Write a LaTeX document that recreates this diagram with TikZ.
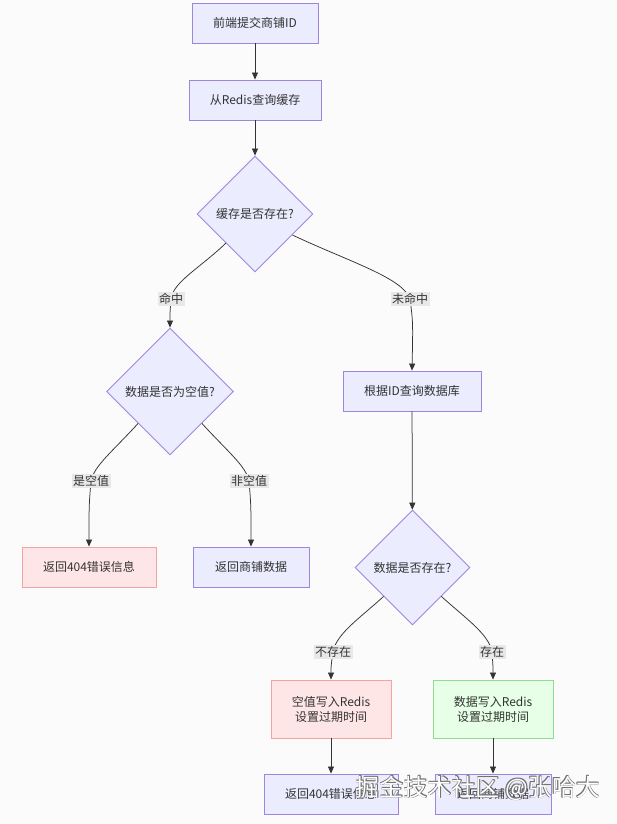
\documentclass[tikz,border=0pt]{standalone}
\usepackage{fontspec}
\setmainfont{Noto Sans CJK SC}
\usetikzlibrary{shapes.geometric,arrows.meta,calc}
\definecolor{bg}{HTML}{FBFBFB}
\definecolor{nfill}{HTML}{ECECFF}
\definecolor{nline}{HTML}{9E86DE}
\definecolor{rfill}{HTML}{FFE6E6}
\definecolor{rline}{HTML}{F2A3A3}
\definecolor{gfill}{HTML}{E6FFE6}
\definecolor{gline}{HTML}{90DD90}
\definecolor{txt}{HTML}{333333}
\definecolor{lbl}{HTML}{E8E8E8}
\definecolor{wmshadow}{HTML}{707070}
\begin{document}
\begin{tikzpicture}[x=1pt,y=-1pt, font=\fontsize{12}{15}\selectfont, text=txt,
  proc/.style={rectangle, draw=nline, fill=nfill, line width=0.9pt, minimum height=40pt, inner sep=0pt},
  dec/.style={diamond, aspect=1, draw=nline, fill=nfill, line width=0.9pt, inner sep=0pt},
  bad/.style={proc, draw=rline, fill=rfill},
  good/.style={proc, draw=gline, fill=gfill},
  conn/.style={draw=txt, line width=0.75pt, -{Triangle[length=7pt,width=6pt]}},
  elabel/.style={fill=lbl, inner sep=1.5pt, font=\fontsize{12}{14}\selectfont},
  wm/.style={font=\fontsize{24}{28}\selectfont, inner sep=0pt}]
\fill[bg] (0,0) rectangle (617,824);
\useasboundingbox (0,0) rectangle (617,824);

\node[proc, minimum width=126pt] (A) at (255,23) {前端提交商铺ID};
\node[proc, minimum width=132pt] (B) at (255,100) {从Redis查询缓存};
\node[dec, minimum size=116pt] (C) at (255,214) {缓存是否存在?};
\node[dec, minimum size=127pt] (D) at (170,391.5) {数据是否为空值?};
\node[proc, minimum width=138pt] (E) at (412,391) {根据ID查询数据库};
\node[bad, minimum width=134pt] (F) at (89,567) {返回404错误信息};
\node[proc, minimum width=116pt] (G) at (251,567) {返回商铺数据};
\node[dec, minimum size=115pt] (H) at (412.5,567.5) {数据是否存在?};
\node[bad, minimum width=120pt, minimum height=58pt, align=center] (I) at (331,709) {空值写入Redis\\设置过期时间};
\node[good, minimum width=120pt, minimum height=58pt, align=center] (J) at (493,709) {数据写入Redis\\设置过期时间};
\node[proc, minimum width=134pt] (K) at (331,794) {返回404错误信息};
\node[proc, minimum width=116pt] (L) at (493,794) {返回商铺数据};

\coordinate (m1) at (171,299);
\coordinate (m2) at (410,299);
\coordinate (m3) at (91,481);
\coordinate (m4) at (249,481);
\coordinate (m5) at (333,652);
\coordinate (m6) at (492,652);
\coordinate (c0) at ($(C.east)!0.36!(C.south)$);

\draw[conn] (A) -- (B);
\draw[conn] (B) -- (C);
\draw[conn] (C.south west) .. controls (200,268) and (173,282) .. (m1) .. controls (170,312) .. (D.north);
\draw[conn] (c0) .. controls (350,262) and (403,278) .. (m2) .. controls (413,322) .. (E.north);
\draw[conn] (D.south west) .. controls (112,452) and (94,466) .. (m3) .. controls (89,505) .. (F.north);
\draw[conn] (D.south east) .. controls (228,452) and (246,466) .. (m4) .. controls (251,505) .. (G.north);
\draw[conn] (E) -- (H);
\draw[conn] (H.south west) .. controls (360,618) and (336,634) .. (m5) .. controls (331,666) .. (I.north);
\draw[conn] (H.south east) .. controls (465,618) and (489,634) .. (m6) .. controls (493,666) .. (J.north);
\draw[conn] (I) -- (K);
\draw[conn] (J) -- (L);

\node[elabel] (l1) at (m1) {命中};
\node[elabel] (l2) at (m2) {未命中};
\node[elabel] (l3) at (m3) {是空值};
\node[elabel] (l4) at (m4) {非空值};
\node[elabel] (l5) at (m5) {不存在};
\node[elabel] (l6) at (m6) {存在};

\node[wm, text=wmshadow] (w1) at (478.8,788.8) {掘金技术社区 @张哈大};
\node[wm, text=wmshadow] (w2) at (477.2,788.8) {掘金技术社区 @张哈大};
\node[wm, text=wmshadow] (w3) at (478.8,787.2) {掘金技术社区 @张哈大};
\node[wm, text=wmshadow] (w4) at (477.2,787.2) {掘金技术社区 @张哈大};
\node[wm, text=white] (w5) at (478,788) {掘金技术社区 @张哈大};
\end{tikzpicture}
\end{document}
